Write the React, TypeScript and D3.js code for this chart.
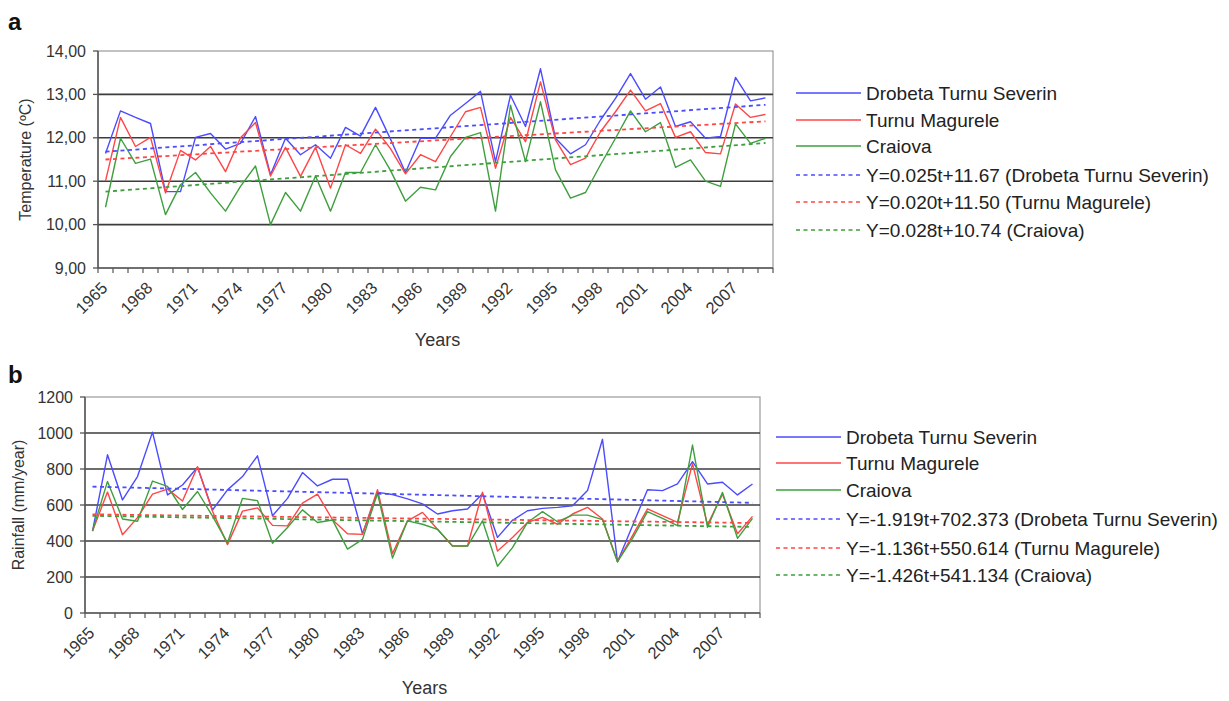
import React from "react";
import * as d3 from "d3";

// ---------- DATA ----------
const years = [
  1965, 1966, 1967, 1968, 1969, 1970, 1971, 1972, 1973, 1974, 1975, 1976, 1977, 1978, 1979,
  1980, 1981, 1982, 1983, 1984, 1985, 1986, 1987, 1988, 1989, 1990, 1991, 1992, 1993, 1994,
  1995, 1996, 1997, 1998, 1999, 2000, 2001, 2002, 2003, 2004, 2005, 2006, 2007, 2008, 2009,
];
const tickYears = [1965, 1968, 1971, 1974, 1977, 1980, 1983, 1986, 1989, 1992, 1995, 1998, 2001, 2004, 2007];

const stationNames = ["Drobeta Turnu Severin", "Turnu Magurele", "Craiova"];

// Temperature (°C)
const tempDrobeta = [
  11.64, 12.62, 12.47, 12.33, 10.76, 10.76, 12.01, 12.1, 11.74, 11.87, 12.49, 11.15, 11.99, 11.61, 11.84,
  11.53, 12.24, 12.04, 12.7, 11.97, 11.2, 11.99, 11.99, 12.52, 12.79, 13.07, 11.45, 12.98, 12.26, 13.59,
  11.99, 11.63, 11.84, 12.41, 12.91, 13.48, 12.89, 13.17, 12.26, 12.37, 11.99, 12.03, 13.39, 12.85, 12.92,
];
const tempTurnu = [
  11.0, 12.47, 11.8, 12.01, 10.73, 11.71, 11.49, 11.8, 11.22, 12.0, 12.35, 11.12, 11.78, 11.11, 11.78,
  10.84, 11.84, 11.64, 12.2, 11.75, 11.17, 11.61, 11.45, 12.03, 12.6, 12.7, 11.3, 12.47, 11.91, 13.29,
  11.95, 11.38, 11.53, 12.14, 12.6, 13.1, 12.62, 12.79, 12.01, 12.14, 11.66, 11.63, 12.78, 12.47, 12.54,
];
const tempCraiova = [
  10.4, 11.99, 11.41, 11.51, 10.23, 10.92, 11.2, 10.73, 10.31, 10.88, 11.35, 10.0, 10.74, 10.31, 11.12,
  10.31, 11.2, 11.2, 11.84, 11.25, 10.54, 10.86, 10.8, 11.57, 12.01, 12.12, 10.31, 12.75, 11.45, 12.83,
  11.26, 10.61, 10.74, 11.38, 11.99, 12.62, 12.14, 12.35, 11.32, 11.49, 11.0, 10.88, 12.32, 11.87, 11.99,
];
// trend lines: value at first year, value at last year
const tempTrendDrobeta = [11.68, 12.76];
const tempTrendTurnu = [11.5, 12.38];
const tempTrendCraiova = [10.76, 11.88];
const tempTrendLabels = [
  "Y=0.025t+11.67 (Drobeta Turnu Severin)",
  "Y=0.020t+11.50 (Turnu Magurele)",
  "Y=0.028t+10.74 (Craiova)",
];
const tempTicks = [9, 10, 11, 12, 13, 14];
const tempTickLabels = ["9,00", "10,00", "11,00", "12,00", "13,00", "14,00"];

// Rainfall (mm/year)
const rainDrobeta = [
  455, 879, 628, 758, 1005, 656, 711, 810, 572, 684, 758, 873, 540, 637, 780,
  706, 743, 743, 440, 670, 658, 634, 606, 550, 568, 578, 662, 420, 515, 568,
  581, 587, 596, 680, 965, 285, 485, 685, 680, 717, 841, 717, 726, 656, 717,
];
const rainTurnu = [
  455, 672, 435, 530, 660, 688, 622, 812, 565, 380, 566, 584, 487, 484, 610,
  660, 518, 440, 437, 685, 330, 512, 559, 465, 372, 372, 671, 344, 419, 503,
  531, 493, 550, 587, 522, 285, 430, 578, 541, 504, 830, 490, 660, 440, 537,
];
const rainCraiova = [
  456, 731, 522, 510, 733, 703, 575, 675, 538, 390, 637, 624, 387, 475, 573,
  503, 517, 355, 409, 665, 305, 512, 493, 465, 372, 372, 512, 260, 363, 503,
  563, 507, 544, 544, 519, 285, 415, 563, 526, 485, 933, 476, 670, 415, 526,
];
const rainTrendDrobeta = [702, 612];
const rainTrendTurnu = [548, 500];
const rainTrendCraiova = [540, 478];
const rainTrendLabels = [
  "Y=-1.919t+702.373 (Drobeta Turnu Severin)",
  "Y=-1.136t+550.614 (Turnu Magurele)",
  "Y=-1.426t+541.134 (Craiova)",
];
const rainTicks = [0, 200, 400, 600, 800, 1000, 1200];
const rainTickLabels = ["0", "200", "400", "600", "800", "1000", "1200"];

// ---------- STYLE ----------
const COLORS = ["#4b4bff", "#ff4646", "#3f9f3f"];
const FONT = "'Liberation Sans', Arial, sans-serif";
const TEXT = "#333";

type PanelProps = {
  left: number;
  right: number;
  top: number;
  bottom: number;
  yTicks: number[];
  yTickLabels: string[];
  series: number[][];
  trends: number[][];
  yTitle: string;
  yTitleX: number;
  yearsLabelY: number;
  legendX: number;
  legendTextX: number;
  legendRows: number[];
  trendLabels: string[];
};

function Panel(p: PanelProps) {
  const x = d3
    .scaleBand<number>()
    .domain(years)
    .range([p.left, p.right])
    .padding(0);
  const bw = x.bandwidth();
  const cx = (yr: number) => (x(yr) as number) + bw / 2;
  const y = d3
    .scaleLinear()
    .domain([p.yTicks[0], p.yTicks[p.yTicks.length - 1]])
    .range([p.bottom, p.top]);
  const line = d3
    .line<number>()
    .x((_, i) => cx(years[i]))
    .y((d) => y(d));
  const first = years[0];
  const last = years[years.length - 1];
  const boundaries = years.map((yr) => x(yr) as number).concat([p.right]);

  return (
    <g>
      {/* plot area border */}
      <rect x={p.left} y={p.top} width={p.right - p.left} height={p.bottom - p.top} fill="#fff" stroke="#9a9a9a" strokeWidth={1.2} />
      {/* gridlines */}
      {p.yTicks.slice(1, -1).map((t) => (
        <line key={t} x1={p.left} x2={p.right} y1={y(t)} y2={y(t)} stroke="#3c3c3c" strokeWidth={1.6} />
      ))}
      {/* axes */}
      <line x1={p.left} x2={p.left} y1={p.top} y2={p.bottom} stroke="#555" strokeWidth={1.5} />
      <line x1={p.left} x2={p.right} y1={p.bottom} y2={p.bottom} stroke="#555" strokeWidth={1.5} />
      {p.yTicks.map((t, i) => (
        <g key={"yt" + t}>
          <line x1={p.left - 5} x2={p.left} y1={y(t)} y2={y(t)} stroke="#555" strokeWidth={1.3} />
          <text x={p.left - 12} y={y(t)} dy="0.35em" textAnchor="end" fontSize={16} fill={TEXT} fontFamily={FONT}>
            {p.yTickLabels[i]}
          </text>
        </g>
      ))}
      {boundaries.map((bx, i) => (
        <line key={"xt" + i} x1={bx} x2={bx} y1={p.bottom} y2={p.bottom + 5} stroke="#555" strokeWidth={1.2} />
      ))}
      {tickYears.map((yr) => (
        <text
          key={"xl" + yr}
          transform={`translate(${cx(yr) + 3},${p.bottom + 21}) rotate(-45)`}
          textAnchor="end"
          fontSize={16.5}
          fill={TEXT}
          fontFamily={FONT}
        >
          {yr}
        </text>
      ))}
      <text
        transform={`translate(${p.yTitleX},${(p.top + p.bottom) / 2}) rotate(-90)`}
        textAnchor="middle"
        dy="0.35em"
        fontSize={16}
        fill={TEXT}
        fontFamily={FONT}
      >
        {p.yTitle}
      </text>
      <text x={(p.left + p.right) / 2 + 2} y={p.yearsLabelY} textAnchor="middle" fontSize={18} fill={TEXT} fontFamily={FONT}>
        Years
      </text>
      {/* data lines */}
      {p.series.map((s, i) => (
        <path key={"s" + i} d={line(s) || ""} fill="none" stroke={COLORS[i]} strokeWidth={1.4} strokeLinejoin="round" />
      ))}
      {/* trend lines */}
      {p.trends.map((t, i) => (
        <line
          key={"t" + i}
          x1={cx(first)}
          x2={cx(last)}
          y1={y(t[0])}
          y2={y(t[1])}
          stroke={COLORS[i]}
          strokeWidth={1.8}
          strokeDasharray="4,3.5"
        />
      ))}
      {/* legend */}
      {stationNames.map((n, i) => (
        <g key={"l" + i}>
          <line x1={p.legendX} x2={p.legendX + 65} y1={p.legendRows[i]} y2={p.legendRows[i]} stroke={COLORS[i]} strokeWidth={1.6} />
          <text x={p.legendTextX} y={p.legendRows[i]} dy="0.35em" fontSize={19} fill="#222" fontFamily={FONT}>
            {n}
          </text>
        </g>
      ))}
      {p.trendLabels.map((n, i) => (
        <g key={"lt" + i}>
          <line
            x1={p.legendX}
            x2={p.legendX + 65}
            y1={p.legendRows[i + 3]}
            y2={p.legendRows[i + 3]}
            stroke={COLORS[i]}
            strokeWidth={1.6}
            strokeDasharray="4,3.5"
          />
          <text x={p.legendTextX} y={p.legendRows[i + 3]} dy="0.35em" fontSize={19} fill="#222" fontFamily={FONT}>
            {n}
          </text>
        </g>
      ))}
    </g>
  );
}

export default function App() {
  return (
    <svg
      width={1229}
      height={701}
      style={{ position: "absolute", left: 0, top: 0, background: "#fff" }}
    >
      <rect width={1229} height={701} fill="#fff" />
      <text x={8} y={30} fontSize={24} fontWeight="bold" fontFamily={FONT} fill="#111">
        a
      </text>
      <text x={8} y={383} fontSize={24} fontWeight="bold" fontFamily={FONT} fill="#111">
        b
      </text>
      <Panel
        left={98}
        right={773}
        top={51}
        bottom={268}
        yTicks={tempTicks}
        yTickLabels={tempTickLabels}
        series={[tempDrobeta, tempTurnu, tempCraiova]}
        trends={[tempTrendDrobeta, tempTrendTurnu, tempTrendCraiova]}
        yTitle="Temperature (ºC)"
        yTitleX={25}
        yearsLabelY={346}
        legendX={796}
        legendTextX={866}
        legendRows={[93, 120, 146, 175, 202, 230]}
        trendLabels={tempTrendLabels}
      />
      <Panel
        left={85}
        right={760}
        top={397}
        bottom={613}
        yTicks={rainTicks}
        yTickLabels={rainTickLabels}
        series={[rainDrobeta, rainTurnu, rainCraiova]}
        trends={[rainTrendDrobeta, rainTrendTurnu, rainTrendCraiova]}
        yTitle="Rainfall (mm/year)"
        yTitleX={18}
        yearsLabelY={694}
        legendX={776}
        legendTextX={846}
        legendRows={[437, 463, 490, 519, 548, 575]}
        trendLabels={rainTrendLabels}
      />
    </svg>
  );
}
